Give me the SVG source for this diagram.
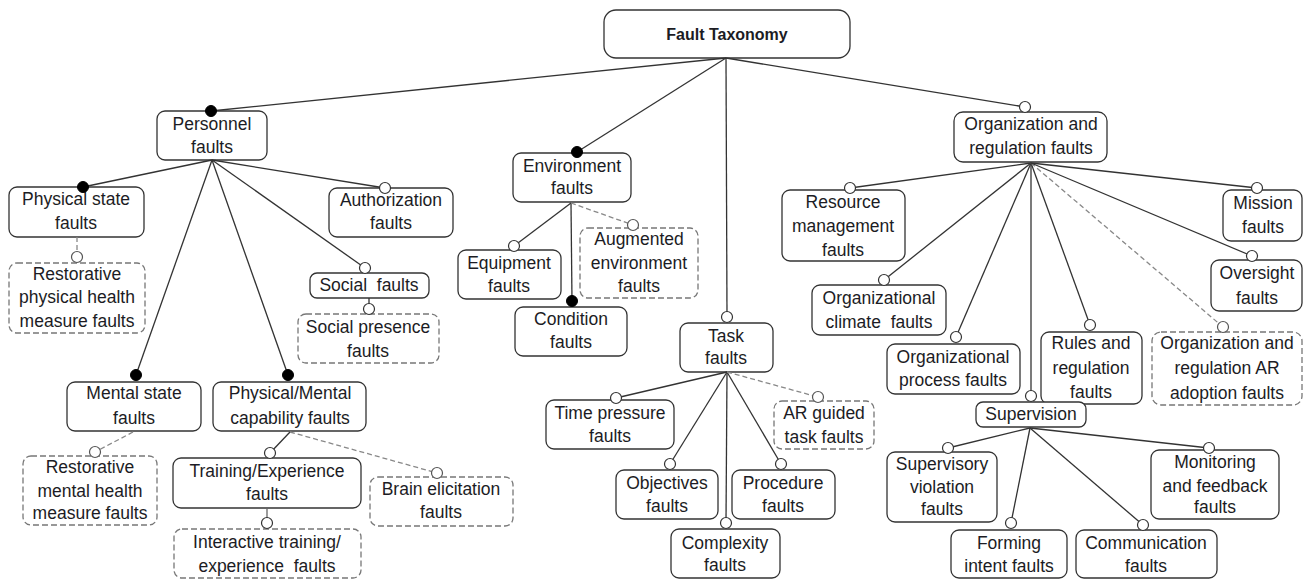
<svg xmlns="http://www.w3.org/2000/svg" width="1304" height="579" viewBox="0 0 1304 579">
<style>
.n rect{fill:#fff;stroke:#333;stroke-width:1.3}
.d rect{fill:#fff;stroke:#777;stroke-width:1.3;stroke-dasharray:6 3}
text{font-family:"Liberation Sans",Arial,sans-serif;font-size:17.5px;fill:#1c1c24;text-anchor:middle;dominant-baseline:central;white-space:pre}
.b{font-weight:bold;font-size:16px}
.c line{stroke:#333;stroke-width:1.3}
.c line.f{marker-end:url(#mf)}
.c line.o{marker-end:url(#mo)}
.c line.dl{stroke:#888;stroke-dasharray:5 3;marker-end:url(#md)}
.c line.s{stroke:#666}
</style>
<defs>
<marker id="mf" viewBox="-7 -7 14 14" markerWidth="14" markerHeight="14" refX="0" refY="0" markerUnits="userSpaceOnUse"><circle r="5.5" fill="#000" stroke="#000" stroke-width="1"/></marker>
<marker id="mo" viewBox="-7 -7 14 14" markerWidth="14" markerHeight="14" refX="0" refY="0" markerUnits="userSpaceOnUse"><circle r="5.5" fill="#fff" stroke="#333" stroke-width="1.2"/></marker>
<marker id="md" viewBox="-7 -7 14 14" markerWidth="14" markerHeight="14" refX="0" refY="0" markerUnits="userSpaceOnUse"><circle r="5.5" fill="#fff" stroke="#555" stroke-width="1.2"/></marker>
</defs>
<rect width="1304" height="579" fill="#fff"/>
<g id="nodes">
<g id="root" class="n"><rect x="604" y="10" width="246" height="48" rx="12"/><text class="b" x="727" y="34">Fault Taxonomy</text></g>
<g id="personnel" class="n"><rect x="157" y="111" width="110" height="49" rx="8"/><text x="212" y="124">Personnel</text><text x="212" y="147">faults</text></g>
<g id="physstate" class="n"><rect x="9" y="187" width="135" height="50" rx="8"/><text x="76" y="199">Physical state</text><text x="76" y="223">faults</text></g>
<g id="authorization" class="n"><rect x="329" y="188" width="124" height="49" rx="8"/><text x="391" y="200">Authorization</text><text x="391" y="223">faults</text></g>
<g id="restphys" class="d"><rect x="9" y="263" width="136" height="70" rx="8"/><text x="77" y="274">Restorative</text><text x="77" y="297">physical health</text><text x="77" y="321">measure faults</text></g>
<g id="social" class="n"><rect x="310" y="273" width="119" height="25" rx="7"/><text x="369" y="285">Social  faults</text></g>
<g id="socialpresence" class="d"><rect x="298" y="314" width="141" height="49" rx="8"/><text x="368" y="327">Social presence</text><text x="368" y="351">faults</text></g>
<g id="mental" class="n"><rect x="67" y="382" width="134" height="49" rx="8"/><text x="134" y="393">Mental state</text><text x="134" y="418">faults</text></g>
<g id="physmental" class="n"><rect x="213" y="382" width="153" height="49" rx="8"/><text x="290" y="393">Physical/Mental</text><text x="290" y="418">capability faults</text></g>
<g id="restmental" class="d"><rect x="23" y="456" width="134" height="69" rx="8"/><text x="90" y="467">Restorative</text><text x="90" y="491">mental health</text><text x="90" y="513">measure faults</text></g>
<g id="training" class="n"><rect x="173" y="458" width="188" height="50" rx="8"/><text x="267" y="471">Training/Experience</text><text x="267" y="494">faults</text></g>
<g id="brain" class="d"><rect x="370" y="477" width="143" height="49" rx="8"/><text x="441" y="489">Brain elicitation</text><text x="441" y="512">faults</text></g>
<g id="interactive" class="d"><rect x="174" y="529" width="187" height="49" rx="8"/><text x="267" y="542">Interactive training/</text><text x="267" y="566">experience  faults</text></g>
<g id="environment" class="n"><rect x="513" y="153" width="118" height="49" rx="8"/><text x="572" y="166">Environment</text><text x="572" y="188">faults</text></g>
<g id="equipment" class="n"><rect x="458" y="250" width="103" height="49" rx="8"/><text x="509" y="263">Equipment</text><text x="509" y="286">faults</text></g>
<g id="augmented" class="d"><rect x="580" y="228" width="118" height="70" rx="8"/><text x="639" y="239">Augmented</text><text x="639" y="263">environment</text><text x="639" y="286">faults</text></g>
<g id="condition" class="n"><rect x="515" y="307" width="112" height="49" rx="8"/><text x="571" y="319">Condition</text><text x="571" y="342">faults</text></g>
<g id="task" class="n"><rect x="680" y="323" width="93" height="49" rx="8"/><text x="726" y="336">Task</text><text x="726" y="358">faults</text></g>
<g id="timepressure" class="n"><rect x="546" y="400" width="128" height="49" rx="8"/><text x="610" y="413">Time pressure</text><text x="610" y="436">faults</text></g>
<g id="objectives" class="n"><rect x="616" y="470" width="102" height="49" rx="8"/><text x="667" y="483">Objectives</text><text x="667" y="506">faults</text></g>
<g id="procedure" class="n"><rect x="732" y="470" width="103" height="49" rx="8"/><text x="783" y="483">Procedure</text><text x="783" y="506">faults</text></g>
<g id="complexity" class="n"><rect x="671" y="529" width="109" height="49" rx="8"/><text x="725" y="543">Complexity</text><text x="725" y="565">faults</text></g>
<g id="arguided" class="d"><rect x="774" y="401" width="100" height="48" rx="8"/><text x="824" y="413">AR guided</text><text x="824" y="437">task faults</text></g>
<g id="org" class="n"><rect x="954" y="112" width="153" height="50" rx="9"/><text x="1031" y="124">Organization and</text><text x="1031" y="148">regulation faults</text></g>
<g id="resource" class="n"><rect x="782" y="190" width="123" height="71" rx="8"/><text x="843" y="202">Resource</text><text x="843" y="226">management</text><text x="843" y="250">faults</text></g>
<g id="mission" class="n"><rect x="1223" y="190" width="79" height="51" rx="8"/><text x="1263" y="203">Mission</text><text x="1263" y="227">faults</text></g>
<g id="oversight" class="n"><rect x="1211" y="260" width="91" height="51" rx="8"/><text x="1257" y="273">Oversight</text><text x="1257" y="298">faults</text></g>
<g id="orgclimate" class="n"><rect x="812" y="285" width="134" height="50" rx="8"/><text x="879" y="298">Organizational</text><text x="879" y="322">climate  faults</text></g>
<g id="orgprocess" class="n"><rect x="887" y="344" width="133" height="50" rx="8"/><text x="953" y="357">Organizational</text><text x="953" y="380">process faults</text></g>
<g id="rules" class="n"><rect x="1041" y="332" width="101" height="72" rx="8"/><text x="1091" y="343">Rules and</text><text x="1091" y="368">regulation</text><text x="1091" y="392">faults</text></g>
<g id="orgar" class="d"><rect x="1152" y="332" width="150" height="73" rx="9"/><text x="1227" y="343">Organization and</text><text x="1227" y="368">regulation AR</text><text x="1227" y="393">adoption faults</text></g>
<g id="supervision" class="n"><rect x="976" y="402" width="110" height="25" rx="7"/><text x="1031" y="414">Supervision</text></g>
<g id="supviol" class="n"><rect x="887" y="452" width="110" height="70" rx="8"/><text x="942" y="464">Supervisory</text><text x="942" y="487">violation</text><text x="942" y="509">faults</text></g>
<g id="monitoring" class="n"><rect x="1151" y="450" width="128" height="69" rx="8"/><text x="1215" y="462">Monitoring</text><text x="1215" y="486">and feedback</text><text x="1215" y="507">faults</text></g>
<g id="forming" class="n"><rect x="951" y="530" width="116" height="48" rx="8"/><text x="1009" y="543">Forming</text><text x="1009" y="566">intent faults</text></g>
<g id="communication" class="n"><rect x="1076" y="530" width="141" height="48" rx="8"/><text x="1146" y="543">Communication</text><text x="1146" y="566">faults</text></g>
</g>
<g id="connectors" class="c">
<line class="f" x1="726" y1="58" x2="211" y2="111"/>
<line class="f" x1="726" y1="58" x2="577" y2="152"/>
<line class="o" x1="726" y1="58" x2="727" y2="317"/>
<line class="o" x1="726" y1="58" x2="1025" y2="107"/>
<line class="f" x1="212" y1="160" x2="83" y2="187"/>
<line class="o" x1="212" y1="160" x2="385" y2="188"/>
<line class="o" x1="212" y1="160" x2="365" y2="268"/>
<line class="f" x1="212" y1="160" x2="136" y2="375"/>
<line class="f" x1="212" y1="160" x2="288" y2="375"/>
<line class="dl" x1="77" y1="237" x2="77" y2="257"/>
<line class="o" x1="369" y1="298" x2="369" y2="309"/>
<line class="dl" x1="133" y1="432" x2="95" y2="452"/>
<line class="o" x1="290" y1="432" x2="270" y2="453"/>
<line class="dl" x1="290" y1="432" x2="437" y2="473"/>
<line class="o s" x1="267" y1="508" x2="267" y2="523"/>
<line class="o" x1="571" y1="203" x2="514" y2="246"/>
<line class="f" x1="571" y1="203" x2="572" y2="301"/>
<line class="dl" x1="571" y1="203" x2="633" y2="225"/>
<line class="o" x1="727" y1="372" x2="616" y2="398"/>
<line class="o" x1="727" y1="372" x2="670" y2="464"/>
<line class="o" x1="727" y1="372" x2="781" y2="464"/>
<line class="o" x1="727" y1="372" x2="726" y2="523"/>
<line class="dl" x1="727" y1="372" x2="818" y2="397"/>
<line class="o" x1="1031" y1="163" x2="850" y2="188"/>
<line class="o" x1="1031" y1="163" x2="884" y2="280"/>
<line class="o" x1="1031" y1="163" x2="956" y2="337"/>
<line class="o" x1="1031" y1="163" x2="1031" y2="396"/>
<line class="o" x1="1031" y1="163" x2="1090" y2="325"/>
<line class="dl" x1="1031" y1="163" x2="1223" y2="327"/>
<line class="o" x1="1031" y1="163" x2="1252" y2="256"/>
<line class="o" x1="1031" y1="163" x2="1257" y2="188"/>
<line class="o" x1="1030" y1="428" x2="948" y2="448"/>
<line class="o" x1="1030" y1="428" x2="1011" y2="523"/>
<line class="o" x1="1030" y1="428" x2="1143" y2="525"/>
<line class="o" x1="1030" y1="428" x2="1209" y2="448"/>
</g>
</svg>
